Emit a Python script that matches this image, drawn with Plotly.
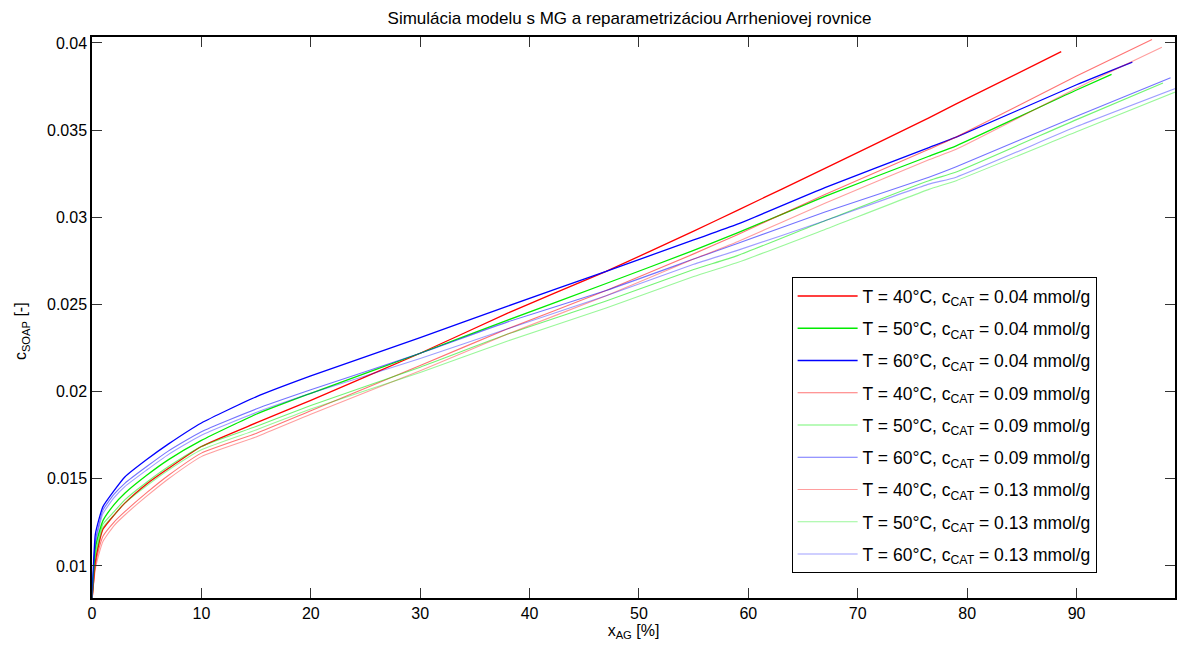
import plotly.graph_objects as go

# Common x grid (x_AG, %) for the sampled points; last value of each series is its end point
x_grid = [0, 0.3, 0.6, 1, 2, 3, 5, 7, 10, 15, 20, 30, 38, 47, 55, 59, 67, 76.5, 79, 90]

# T = 40 / 50 / 60 °C, c_CAT = 0.04 mmol/g
r1_x = x_grid[:-1] + [88.6]
r1_y = [0.0080, 0.0102, 0.0112, 0.0121, 0.0129, 0.0136, 0.0147, 0.0156, 0.01685, 0.0182, 0.0195,
        0.0222, 0.0245, 0.0269, 0.0292, 0.0304, 0.0328, 0.0357, 0.0365, 0.0395]
g1_x = x_grid + [93.2]
g1_y = [0.0080, 0.0110, 0.0118, 0.0126, 0.0135, 0.01417, 0.0152, 0.0161, 0.0172, 0.0187, 0.0199,
        0.0222, 0.0241, 0.0262, 0.0281, 0.0291, 0.0312, 0.0335, 0.0341, 0.0373, 0.0382]
b1_x = x_grid + [95.1]
b1_y = [0.0080, 0.0118, 0.0126, 0.0134, 0.0143, 0.0151, 0.0161, 0.0170, 0.0182, 0.0197, 0.0209,
        0.0231, 0.0249, 0.0269, 0.0287, 0.0296, 0.0317, 0.0340, 0.0346, 0.0376, 0.0389]

# c_CAT = 0.09 mmol/g
r2_x = x_grid + [96.9]
r2_y = [0.0080, 0.0100, 0.0109, 0.0117, 0.0125, 0.01311, 0.0142, 0.0152, 0.01647, 0.0176, 0.0189,
        0.0215, 0.0236, 0.0258, 0.0279, 0.0290, 0.0313, 0.0339, 0.0346, 0.0381, 0.0402]
g2_x = x_grid + [97.9]
g2_y = [0.0080, 0.0107, 0.0115, 0.0124, 0.0131, 0.01379, 0.0148, 0.0157, 0.01685, 0.0180, 0.0192,
        0.0214, 0.0233, 0.0252, 0.0270, 0.0278, 0.0298, 0.0321, 0.0326, 0.0356, 0.0377]
b2_x = x_grid + [98.6]
b2_y = [0.0080, 0.0114, 0.0123, 0.0132, 0.0141, 0.01474, 0.0157, 0.0166, 0.0177, 0.0190, 0.0201,
        0.0222, 0.0240, 0.0258, 0.0276, 0.0285, 0.0303, 0.0323, 0.0329, 0.0358, 0.0380]

# c_CAT = 0.13 mmol/g
r3_x = x_grid + [97.8]
r3_y = [0.0080, 0.0098, 0.0106, 0.0114, 0.0123, 0.01292, 0.0140, 0.0150, 0.01627, 0.0174, 0.0187,
        0.0212, 0.0233, 0.0255, 0.0276, 0.0286, 0.0308, 0.0333, 0.0339, 0.0374, 0.03975]
g3_x = x_grid + [99.5]
g3_y = [0.0080, 0.0105, 0.0113, 0.0122, 0.0129, 0.0136, 0.0146, 0.0155, 0.01666, 0.0178, 0.0190,
        0.0211, 0.0229, 0.0248, 0.0266, 0.0274, 0.0293, 0.0316, 0.0321, 0.0349, 0.0373]
b3_x = x_grid + [99.5]
b3_y = [0.0080, 0.0112, 0.0121, 0.0130, 0.0139, 0.01455, 0.0155, 0.0164, 0.0175, 0.0188, 0.0199,
        0.0219, 0.0236, 0.0255, 0.0273, 0.0281, 0.0298, 0.0319, 0.0323, 0.0352, 0.0375]

labels = [
    "T = 40°C, c<sub>CAT</sub> = 0.04 mmol/g",
    "T = 50°C, c<sub>CAT</sub> = 0.04 mmol/g",
    "T = 60°C, c<sub>CAT</sub> = 0.04 mmol/g",
    "T = 40°C, c<sub>CAT</sub> = 0.09 mmol/g",
    "T = 50°C, c<sub>CAT</sub> = 0.09 mmol/g",
    "T = 60°C, c<sub>CAT</sub> = 0.09 mmol/g",
    "T = 40°C, c<sub>CAT</sub> = 0.13 mmol/g",
    "T = 50°C, c<sub>CAT</sub> = 0.13 mmol/g",
    "T = 60°C, c<sub>CAT</sub> = 0.13 mmol/g",
]

x_ticks = [0, 10, 20, 30, 40, 50, 60, 70, 80, 90]
y_ticks = [0.01, 0.015, 0.02, 0.025, 0.03, 0.035, 0.04]
y_ticktext = ["0.01", "0.015", "0.02", "0.025", "0.03", "0.035", "0.04"]

series = [(r1_x, r1_y), (g1_x, g1_y), (b1_x, b1_y),
          (r2_x, r2_y), (g2_x, g2_y), (b2_x, b2_y),
          (r3_x, r3_y), (g3_x, g3_y), (b3_x, b3_y)]
colors = ["rgb(255,0,0)", "rgb(0,235,0)", "rgb(0,0,255)",
          "rgba(255,0,0,0.55)", "rgba(0,235,0,0.55)", "rgba(0,0,255,0.55)",
          "rgba(255,0,0,0.38)", "rgba(0,235,0,0.4)", "rgba(0,0,255,0.38)"]
widths = [1.3, 1.3, 1.3, 1.1, 1.1, 1.1, 1.1, 1.1, 1.1]

fig = go.Figure()
for i, ((xs, ys), lab) in enumerate(zip(series, labels)):
    fig.add_trace(go.Scatter(x=xs, y=ys, mode="lines", name=lab,
                             legendgroup=f"g{i}",
                             line=dict(color=colors[i], width=widths[i],
                                       shape="spline", smoothing=0.5)))

font_family = "Liberation Sans, Arial, sans-serif"
fig.update_layout(
    width=1181, height=652,
    margin=dict(l=92, r=4, t=37, b=54),
    paper_bgcolor="white", plot_bgcolor="white",
    font=dict(family=font_family, size=16, color="black"),
    title=dict(text="Simulácia modelu s MG a reparametrizáciou Arrheniovej rovnice",
               x=0.533, xanchor="center", y=0.972, yanchor="middle",
               font=dict(size=17, family=font_family)),
    showlegend=True,
    legend=dict(x=0.646, y=0.572, xanchor="left", yanchor="top",
                bordercolor="black", borderwidth=1, bgcolor="white",
                font=dict(size=17.5, family=font_family),
                itemwidth=60, tracegroupgap=6.5,
                itemclick=False),
    xaxis=dict(range=[0, 99], tickvals=x_ticks, ticks="inside", ticklen=10,
               tickcolor="#333", showline=True, linecolor="black", linewidth=1.5,
               mirror="ticks", showgrid=False, zeroline=False,
               tickfont=dict(size=16),
               title=dict(text="x<sub>AG</sub> [%]", standoff=2,
                          font=dict(size=16, family=font_family))),
    yaxis=dict(range=[0.00816, 0.04034], tickvals=y_ticks, ticktext=y_ticktext,
               ticks="inside", ticklen=10, tickcolor="#333",
               showline=True, linecolor="black", linewidth=1.5,
               mirror="ticks", showgrid=False, zeroline=False,
               tickfont=dict(size=16)),
    annotations=[dict(text="c<sub>SOAP</sub> [-]", textangle=-90,
                      xref="paper", yref="paper", x=-0.0645, y=0.476,
                      xanchor="center", yanchor="middle", showarrow=False,
                      font=dict(size=16, family=font_family))],
)

fig.write_html("out.html")
